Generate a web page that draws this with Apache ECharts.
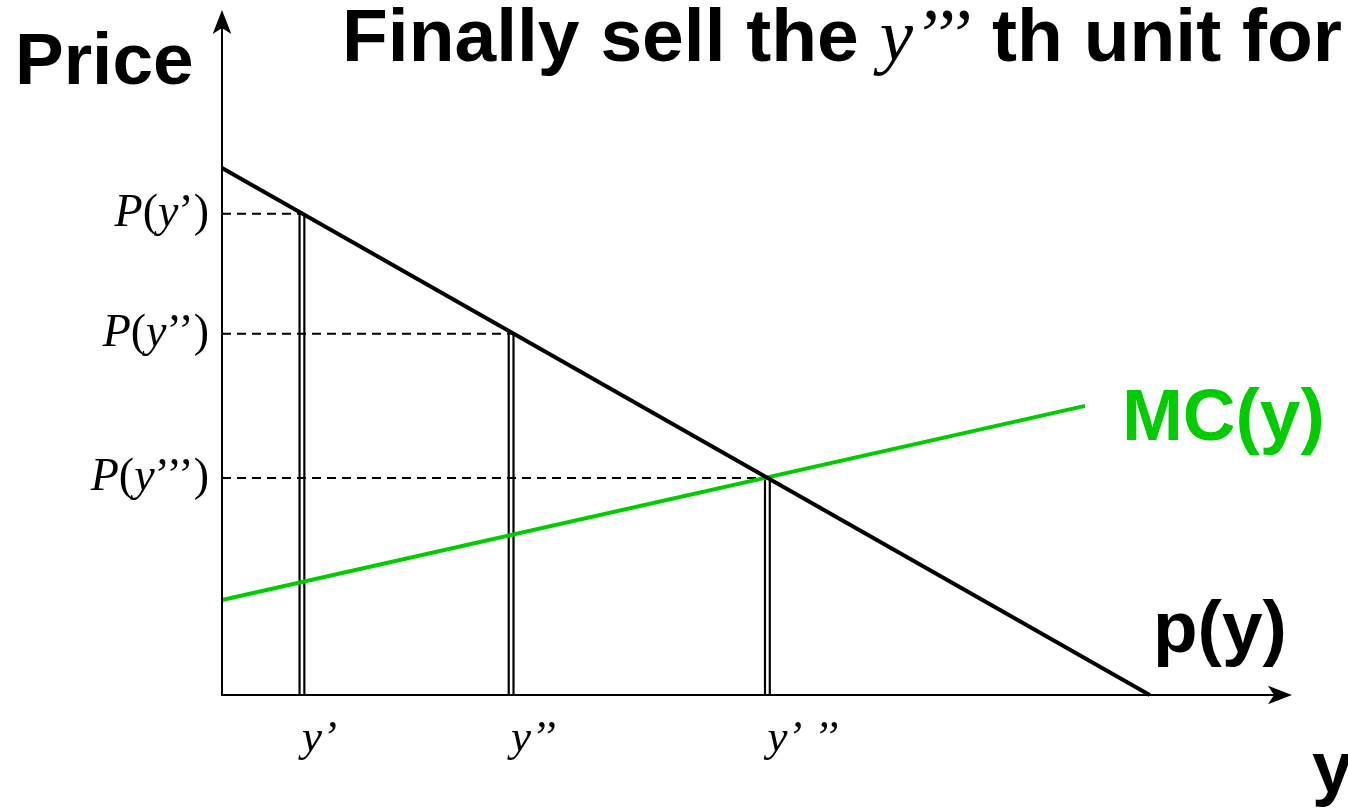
<!DOCTYPE html>
<html>
<head>
<meta charset="utf-8">
<script src="https://cdn.jsdelivr.net/npm/echarts@6/dist/echarts.min.js"></script>
<style>
  html, body { margin: 0; padding: 0; background: #fff; }
  #chart { width: 1348px; height: 810px; }
</style>
</head>
<body>
<div id="chart"></div>
<script>
// demand curve p(y) and marginal cost MC(y)
const demandX = [0, 87.6]
const demandY = [78.2, 0]
const mcX = [0, 81.5]
const mcY = [14.1, 42.9]

// the three units sold and their prices
const qty = [7.55, 27.3, 51.5]
const prices = [71.4, 53.6, 32.2]
const qtyTicks = ['’', '’’', '’ ’’']
const priceTicks = ['’)', '’’)', '’’’)']

const sans = 'Liberation Sans, Arial, sans-serif'
const serif = 'Liberation Serif, Times New Roman, serif'
const green = '#00cc00'

function pairs(xs, ys) {
  return xs.map((x, i) => [x, ys[i]])
}

function indexOf(list, v) {
  return list.findIndex(d => Math.abs(d - v) < 1e-6)
}

const series = []

qty.forEach((q, i) => {
  // double vertical line: a wide black stroke with a white core
  series.push({
    type: 'line',
    data: [[q, 0], [q, prices[i]]],
    symbol: 'none',
    silent: true,
    z: 2,
    lineStyle: { color: '#000', width: 7, cap: 'butt' },
  })
  series.push({
    type: 'line',
    data: [[q, 0], [q, prices[i]]],
    symbol: 'none',
    silent: true,
    z: 3,
    lineStyle: { color: '#fff', width: 2.6, cap: 'butt' },
  })
})

qty.forEach((q, i) => {
  series.push({
    type: 'line',
    data: [[0, prices[i]], [q, prices[i]]],
    symbol: 'none',
    silent: true,
    z: 4,
    lineStyle: { color: '#000', width: 2, type: [9, 6] },
  })
})

series.push({
  name: 'MC(y)',
  type: 'line',
  data: pairs(mcX, mcY),
  symbol: 'none',
  z: 5,
  lineStyle: { color: green, width: 4 },
})

series.push({
  name: 'p(y)',
  type: 'line',
  data: pairs(demandX, demandY),
  symbol: 'none',
  z: 6,
  lineStyle: { color: '#000', width: 4 },
})

const chart = echarts.init(document.getElementById('chart'), null, { renderer: 'canvas' })

chart.setOption({
  backgroundColor: '#fff',
  animation: false,
  grid: { left: 222, right: 67, top: 21, bottom: 115 },
  xAxis: {
    type: 'value',
    min: 0,
    max: 100,
    z: 8,
    splitLine: { show: false },
    axisTick: { show: false },
    axisLine: {
      show: true,
      onZero: false,
      symbol: ['none', 'arrow'],
      symbolSize: [14, 24],
      symbolOffset: [0, 11],
      lineStyle: { color: '#000', width: 2 },
    },
    axisLabel: {
      customValues: qty,
      margin: 22,
      align: 'left',
      formatter: v => {
        const i = indexOf(qty, v)
        return '{i|y}{n|' + qtyTicks[i] + '}'
      },
      rich: {
        i: { fontFamily: serif, fontStyle: 'italic', fontSize: 45, color: '#000', padding: [0, 0, 0, 0] },
        n: { fontFamily: serif, fontStyle: 'italic', fontSize: 45, color: '#000' },
      },
    },
  },
  yAxis: {
    type: 'value',
    min: 0,
    max: 100,
    z: 8,
    splitLine: { show: false },
    axisTick: { show: false },
    axisLine: {
      show: true,
      onZero: false,
      symbol: ['none', 'arrow'],
      symbolSize: [14, 24],
      symbolOffset: [0, 11],
      lineStyle: { color: '#000', width: 2 },
    },
    axisLabel: {
      customValues: prices,
      margin: 13,
      formatter: v => {
        const i = indexOf(prices, v)
        return '{i|P}{n|(}{i|y}{n|' + priceTicks[i] + '}'
      },
      rich: {
        i: { fontFamily: serif, fontStyle: 'italic', fontSize: 46, color: '#000' },
        n: { fontFamily: serif, fontSize: 46, color: '#000' },
      },
    },
  },
  graphic: [
    {
      type: 'text',
      x: 342,
      y: 40,
      style: {
        text: '{a|Finally sell the }{b|y’’’}{a| th unit for}',
        verticalAlign: 'middle',
        rich: {
          a: { fontFamily: sans, fontWeight: 'bold', fontSize: 75, fill: '#000' },
          b: { fontFamily: serif, fontStyle: 'italic', fontSize: 75, fill: '#000' },
        },
      },
    },
    {
      type: 'text',
      x: 15,
      y: 64,
      style: { text: 'Price', font: 'bold 73px ' + sans, fill: '#000', verticalAlign: 'middle' },
    },
    {
      type: 'text',
      x: 1122,
      y: 420,
      style: { text: 'MC(y)', font: 'bold 73px ' + sans, fill: green, verticalAlign: 'middle' },
    },
    {
      type: 'text',
      x: 1153,
      y: 632,
      style: { text: 'p(y)', font: 'bold 73px ' + sans, fill: '#000', verticalAlign: 'middle' },
    },
    {
      type: 'text',
      x: 1312,
      y: 772,
      style: { text: 'y', font: 'bold 73px ' + sans, fill: '#000', verticalAlign: 'middle' },
    },
  ],
  series,
})
</script>
</body>
</html>
